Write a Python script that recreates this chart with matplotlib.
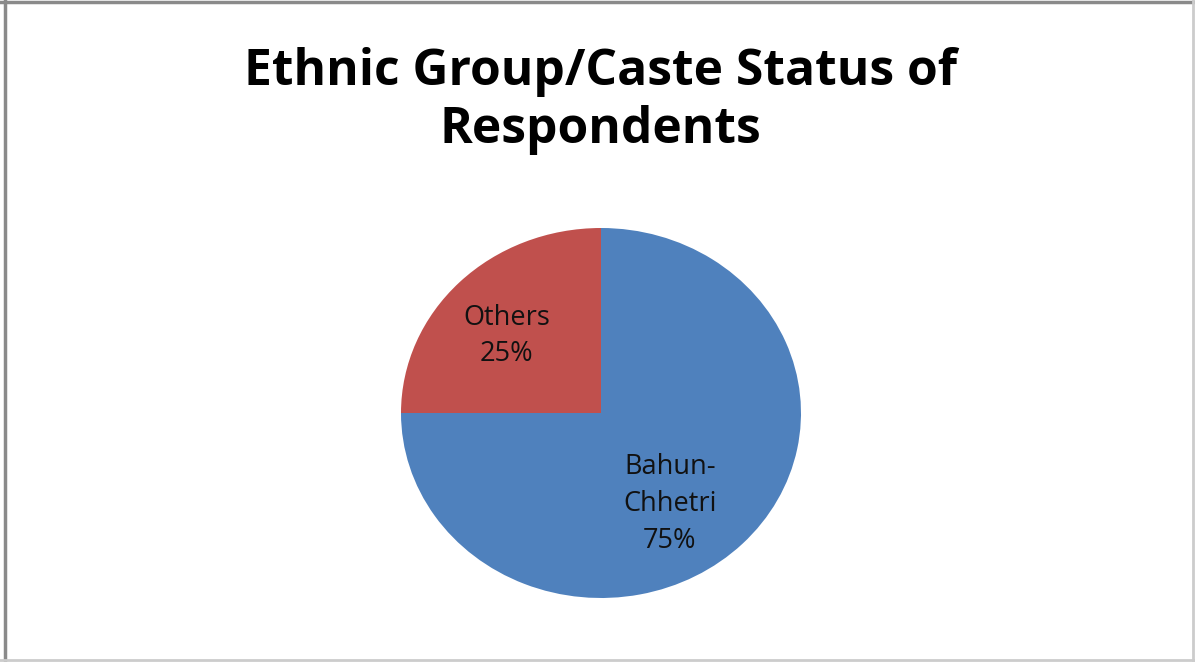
import numpy as np
import matplotlib
matplotlib.use('Agg')
from matplotlib import pyplot as plt
from matplotlib.lines import Line2D

# Данные
groups = ['Bahun-\nChhetri', 'Others']
shares = [75, 25]
colors = ['#4F81BD', '#C0504D']

W, H = 1195, 662
fig = plt.figure(figsize=(W / 100, H / 100), dpi=100)
fig.patch.set_facecolor('white')

# Заголовок
fig.text(600 / W, 1 - 101 / H, 'Ethnic Group/Caste Status of\nRespondents',
         ha='center', va='center', fontsize=35.8, fontweight='bold',
         family='Open Sans', linespacing=1.22, color='black')

# Круговая диаграмма (чуть вытянута по горизонтали)
left, right, top, bottom = 401, 801, 228, 598
ax = fig.add_axes([left / W, 1 - bottom / H, (right - left) / W, (bottom - top) / H])
wedges, _ = ax.pie(shares, colors=colors, startangle=90, counterclock=False,
                   wedgeprops=dict(linewidth=0))
ax.set_aspect('auto')
ax.set_xlim(-1, 1)
ax.set_ylim(-1, 1)
ax.axis('off')

# Подписи секторов: сдвиг угла (град.) и радиус
offsets = {0: (-10, 0.60), 1: (3.5, 0.628)}
for i, (w, name, val) in enumerate(zip(wedges, groups, shares)):
    d_ang, r = offsets[i]
    ang = np.deg2rad((w.theta1 + w.theta2) / 2 + d_ang)
    ax.text(r * np.cos(ang), r * np.sin(ang), f'{name}\n{val}%',
            ha='center', va='center', fontsize=19.5, family='Open Sans',
            linespacing=1.42, color='#111111')

# Рамка
fig.add_artist(Line2D([5 / W, 5 / W], [0, 1], color='#8a8a8a', lw=2.5))
fig.add_artist(Line2D([0, 1], [1 - 2 / H, 1 - 2 / H], color='#8a8a8a', lw=2.5))
fig.add_artist(Line2D([1193 / W, 1193 / W], [0, 1], color='#cccccc', lw=2))
fig.add_artist(Line2D([0, 1], [1 - 660 / H, 1 - 660 / H], color='#cccccc', lw=2))

plt.savefig('out.png', dpi=100)
